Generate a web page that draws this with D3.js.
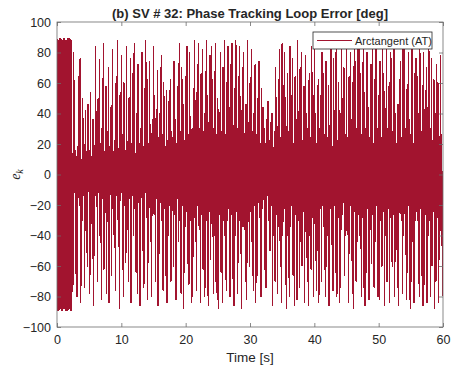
<!DOCTYPE html>
<html><head><meta charset="utf-8">
<script src="https://cdn.jsdelivr.net/npm/d3@7"></script>
<style>body{margin:0;background:#fff}svg{display:block}text{font-family:"Liberation Sans",Arial,sans-serif;fill:#262626}</style>
</head><body>
<svg id="c" width="451" height="370"></svg>
<script>
// ---- data ----
const sampleStep = 0.1; // seconds between samples
const phaseError = [
 89,-89,88,-89,89,-88,89,-89,88,-89,
 89,-88,89,-89,88,-89,89,-89,89,-88,
 89,-89,88,-89,14,-72,80,-12,16,-65,
 12,-80,18,-15,64,-20,76,-84,10,-30,
 50,-14,20,-74,42,-18,15,-60,46,-11,
 16,-78,54,-22,12,-55,36,-86,18,-14,
 84,-20,14,-70,50,-12,75,-40,20,-82,
 30,-16,86,-62,15,-25,58,-78,12,-18,
 70,-84,18,-13,44,-66,82,-20,15,-48,
 22,-76,64,-14,88,-30,16,-88,52,-17,
 78,-12,26,-80,60,-20,14,-58,84,-22,
 18,-70,50,-16,76,-84,20,-14,66,-40,
 86,-22,14,-64,40,-78,72,-18,20,-86,
 30,-15,80,-50,18,-74,56,-12,88,-28,
 62,-82,20,-18,74,-44,16,-80,36,-20,
 84,-26,52,-70,22,-16,68,-86,24,-52,
 40,-18,78,-30,26,-76,60,-22,18,-66,
 55,-84,22,-40,48,-20,62,-70,28,-18,
 24,-60,74,-26,36,-82,20,-16,58,-44,
 86,-30,28,-78,70,-20,46,-88,22,-34,
 64,-24,84,-58,26,-72,80,-30,38,-84,
 30,-80,56,-28,88,-44,24,-76,72,-20,
 86,-36,30,-84,66,-26,82,-62,28,-80,
 40,-74,88,-30,52,-86,34,-24,78,-56,
 84,-28,62,-78,30,-40,86,-70,26,-82,
 50,-88,36,-26,80,-64,28,-84,70,-30,
 88,-40,26,-76,60,-30,84,-22,44,-80,
 72,-26,86,-68,32,-86,56,-40,88,-24,
 30,-78,64,-30,84,-52,26,-88,70,-34,
 80,-36,24,-70,46,-82,88,-26,34,-60,
 60,-24,82,-44,28,-76,40,-20,72,-84,
 26,-66,50,-18,74,-28,20,-80,56,-22,
 44,-16,30,-62,20,-74,36,-14,48,-30,
 22,-50,34,-20,40,-86,18,-40,28,-70,
 70,-26,16,-78,62,-18,82,-60,24,-84,
 86,-40,58,-22,80,-72,30,-88,66,-24,
 28,-80,84,-34,52,-20,76,-66,20,-86,
 64,-26,36,-82,88,-30,24,-74,70,-44,
 80,-60,22,-24,58,-84,78,-20,40,-70,
 30,-86,66,-40,24,-62,84,-28,52,-80,
 84,-24,40,-76,20,-50,62,-84,30,-22,
 52,-70,80,-20,66,-34,26,-80,74,-60,
 24,-40,58,-86,32,-22,84,-46,18,-76,
 76,-20,30,-64,88,-80,22,-28,60,-84,
 40,-74,82,-26,50,-18,70,-66,26,-40,
 86,-30,24,-84,64,-52,80,-20,36,-78,
 60,-88,84,-24,74,-70,30,-44,86,-26,
 88,-40,66,-80,26,-28,82,-74,54,-86,
 30,-64,80,-22,44,-82,24,-36,72,-58,
 84,-26,20,-74,62,-44,86,-20,30,-80,
 52,-82,74,-30,24,-60,84,-24,66,-86,
 24,-40,86,-70,30,-22,58,-84,80,-28,
 76,-60,28,-26,82,-80,40,-46,20,-74,
 46,-86,62,-22,74,-30,24,-78,86,-40,
 82,-26,30,-82,56,-64,80,-20,36,-88,
 26,-70,84,-44,20,-84,66,-30,76,-24,
 64,-30,40,-80,82,-22,28,-66,58,-86,
 80,-72,24,-26,70,-84,44,-40,84,-30,
 30,-80,76,-60,22,-24,62,-88,40,-70,
 72,-28,60,-84,18,-56,78,-30,26,-80
];
const xTicks = [0,10,20,30,40,50,60];
const yTicks = [-100,-80,-60,-40,-20,0,20,40,60,80,100];
const seriesName = "Arctangent (AT)";
const titleText = "(b) SV # 32: Phase Tracking Loop Error [deg]";

// ---- chart ----
const svg = d3.select("#c");
const L = 57, R = 443, T = 22, B = 327;
const x = d3.scaleLinear().domain([0,60]).range([L,R]);
const y = d3.scaleLinear().domain([-100,100]).range([B,T]);
const color = "#A2142F";
const axisCol = "#262626";

const pts = phaseError.map((v,i)=>[i*sampleStep, v]);
svg.append("clipPath").attr("id","clip").append("rect").attr("x",L).attr("y",T).attr("width",R-L).attr("height",B-T);
svg.append("path").datum(pts).attr("clip-path","url(#clip)")
  .attr("fill","none").attr("stroke",color).attr("stroke-width",1.3)
  .attr("stroke-linejoin","round").attr("shape-rendering","crispEdges")
  .attr("d", d3.line().x(d=>x(d[0])).y(d=>y(d[1])));

// frame
svg.append("rect").attr("x",L).attr("y",T).attr("width",R-L).attr("height",B-T)
  .attr("fill","none").attr("stroke","#6b6b6b").attr("stroke-width",0.8);

const tl = 4;
const gx = svg.append("g").attr("transform",`translate(0,${B})`)
  .call(d3.axisBottom(x).tickValues(xTicks).tickSizeInner(-tl).tickSizeOuter(0).tickPadding(8));
const gxt = svg.append("g").attr("transform",`translate(0,${T})`)
  .call(d3.axisTop(x).tickValues(xTicks).tickSizeInner(-tl).tickSizeOuter(0).tickFormat(""));
const gy = svg.append("g").attr("transform",`translate(${L},0)`)
  .call(d3.axisLeft(y).tickValues(yTicks).tickSizeInner(-tl).tickSizeOuter(0).tickPadding(6));
const gyr = svg.append("g").attr("transform",`translate(${R},0)`)
  .call(d3.axisRight(y).tickValues(yTicks).tickSizeInner(-tl).tickSizeOuter(0).tickFormat(""));
[gx,gxt,gy,gyr].forEach(g=>{
  g.select(".domain").remove();
  g.selectAll(".tick line").attr("stroke","#6b6b6b").attr("stroke-width",0.8);
  g.selectAll(".tick text").attr("font-size",12.5).attr("fill",axisCol).style("font-family","'Liberation Sans',Arial,sans-serif");
});

// title
svg.append("text").attr("x",(L+R)/2).attr("y",18).attr("text-anchor","middle")
  .attr("font-size",13).attr("font-weight","bold").text(titleText);
// x label
svg.append("text").attr("x",(L+R)/2).attr("y",362).attr("text-anchor","middle")
  .attr("font-size",13.5).text("Time [s]");
// y label
const yl = svg.append("text").attr("transform",`translate(20,${(T+B)/2}) rotate(-90)`)
  .attr("text-anchor","middle").style("font-family","'Liberation Serif','Times New Roman',serif")
  .attr("font-style","italic").attr("font-size",14);
yl.append("tspan").text("e");
yl.append("tspan").attr("font-size",10).attr("dy",3).text("k");

// legend
const lg = svg.append("g");
lg.append("rect").attr("x",313).attr("y",32).attr("width",119).attr("height",17)
  .attr("fill","#fff").attr("stroke","#262626").attr("stroke-width",0.8);
lg.append("line").attr("x1",317).attr("x2",352).attr("y1",40.5).attr("y2",40.5)
  .attr("stroke",color).attr("stroke-width",1);
lg.append("text").attr("x",355).attr("y",44.5).attr("font-size",11).text(seriesName);
</script>
</body></html>
